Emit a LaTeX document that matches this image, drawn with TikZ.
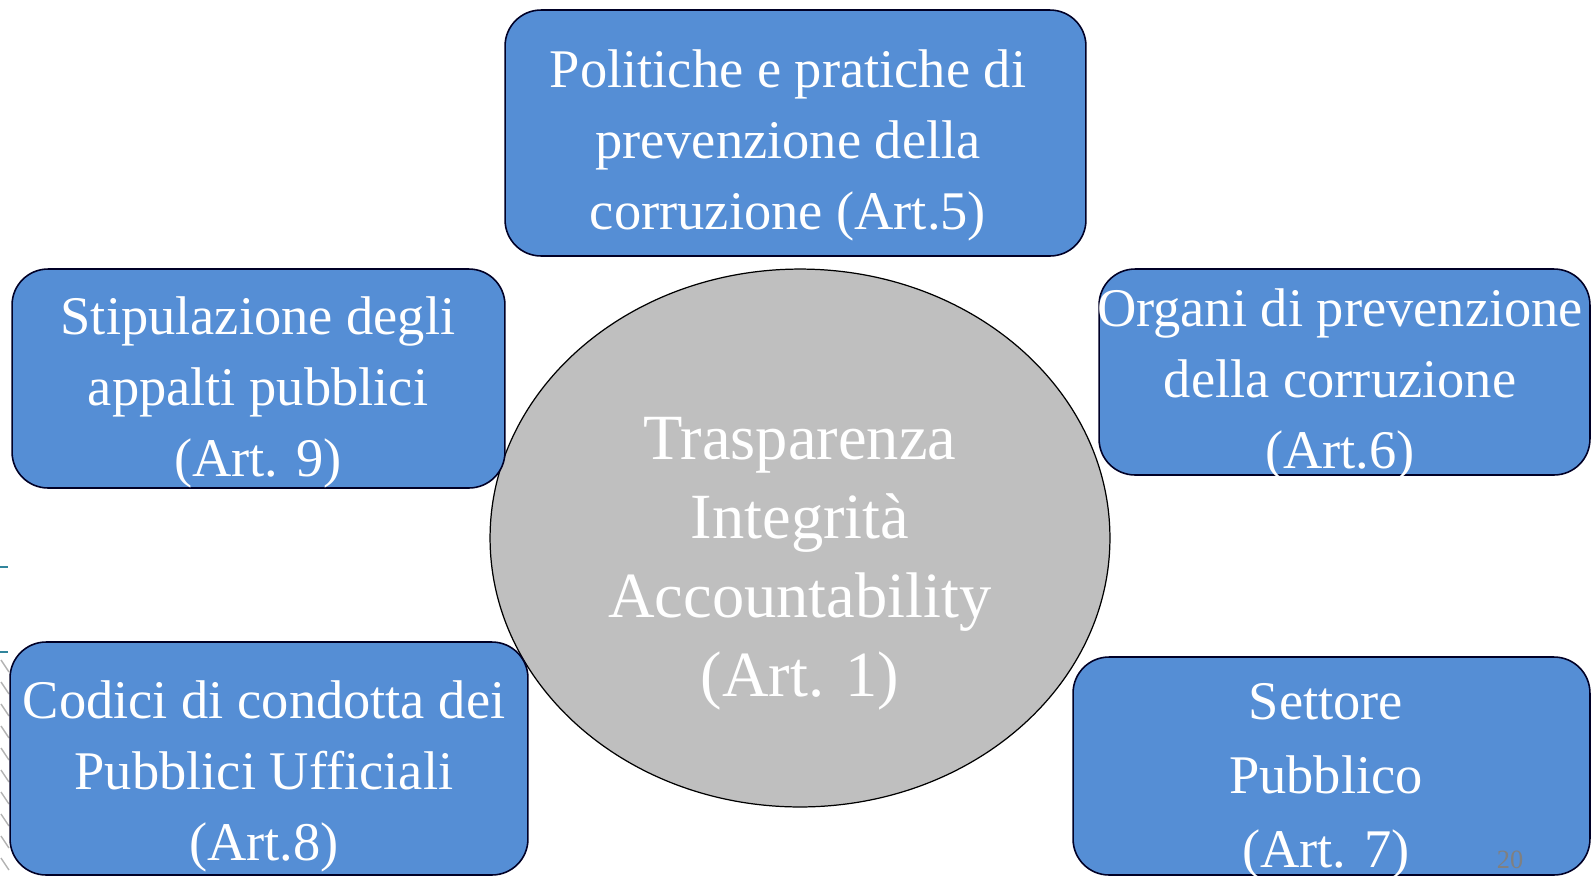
\documentclass[tikz,border=0pt]{standalone}
\usepackage{fontspec}
\setmainfont{Liberation Serif}
\usetikzlibrary{shapes.geometric, positioning}
\definecolor{boxblue}{HTML}{558ED5}
\definecolor{discgray}{HTML}{BFBFBF}
\definecolor{slideteal}{HTML}{31859C}
\tikzset{
    topic/.style={
        rectangle,
        rounded corners=0.72cm,
        draw=black!85!blue,
        line width=0.9pt,
        fill=boxblue
    },
    topictext/.style={
        text=white,
        align=center,
        font=\fontsize{31}{40.4}\selectfont
    },
    core/.style={
        ellipse,
        draw=black,
        line width=0.7pt,
        fill=discgray,
        inner sep=0pt,
        minimum width=12.4cm,
        minimum height=10.76cm
    },
    coretext/.style={
        text=white,
        align=center,
        font=\fontsize{36.7}{45}\selectfont
    },
    pagenum/.style={
        text=gray,
        font=\fontsize{15}{15}\selectfont
    }
}

\begin{document}
\begin{tikzpicture}[x=0.02cm, y=-0.02cm]
    \useasboundingbox (0,0) rectangle (1592,877);

    % Slide leftovers on the left edge
    \draw[slideteal, line width=1.2pt] (0,567) -- (8,567);
    \draw[slideteal, line width=1.2pt] (0,652) -- (8,652);
    \foreach \yy in {660,682,...,860}
        \draw[gray!60, line width=0.8pt] (1,\yy) -- (9,\yy+12);

    % Centre
    \node[core] (core) at (800,538) {};
    \node[coretext] (coretxt) at (800,564) {Trasparenza\\Integrità\\Accountability\\(Art. 1)};

    % Art. 5
    \node[topic, minimum width=11.62cm, minimum height=4.92cm] (pol) at (795.5,133) {};
    \node[topictext] (poltxt) at (788,145) {Politiche e pratiche di\\prevenzione della\\corruzione (Art.5)};

    % Art. 9
    \node[topic, minimum width=9.86cm, minimum height=4.38cm] (stip) at (258.5,378.5) {};
    \node[topictext] (stiptxt) at (258,392) {Stipulazione degli\\appalti pubblici\\(Art. 9)};

    % Art. 6
    \node[topic, minimum width=9.82cm, minimum height=4.12cm] (org) at (1344.5,372) {};
    \node[topictext] (orgtxt) at (1340,384) {Organi di prevenzione\\della corruzione\\(Art.6)};

    % Art. 8
    \node[topic, minimum width=10.36cm, minimum height=4.66cm] (cod) at (269,758.5) {};
    \node[topictext] (codtxt) at (264,776) {Codici di condotta dei\\Pubblici Ufficiali\\(Art.8)};

    % Art. 7
    \node[topic, minimum width=10.34cm, minimum height=4.36cm] (sett) at (1331.5,766) {};
    \node[topictext, font=\fontsize{31}{42}\selectfont] (setttxt) at (1326,781) {Settore\\Pubblico\\(Art. 7)};

    % Page number
    \node[pagenum] (page) at (1510,860) {20};

\end{tikzpicture}
\end{document}
